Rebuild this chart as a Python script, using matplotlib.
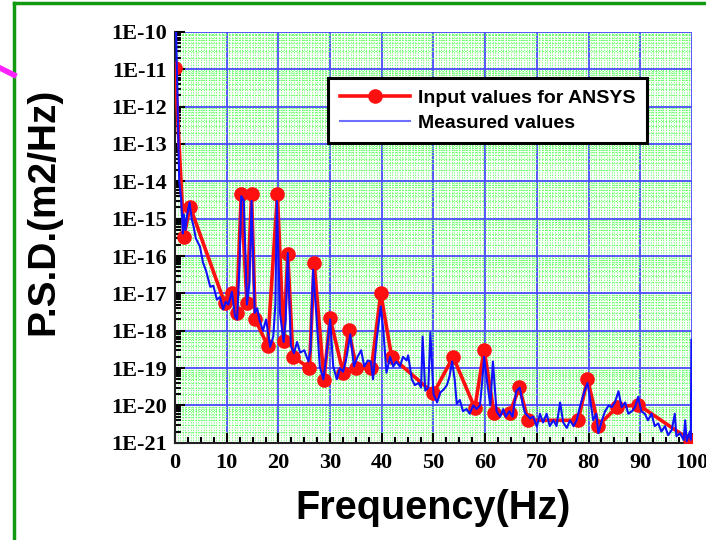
import numpy as np
import matplotlib
matplotlib.use('Agg')
import matplotlib.pyplot as plt
from matplotlib.ticker import MultipleLocator, FixedLocator, FuncFormatter, NullFormatter
from matplotlib.lines import Line2D

## INPUT VALUES FOR ANSYS (red, with markers)
f_in = [0, 1.7, 2.9, 9.6, 11.0, 11.9, 12.8, 13.9, 14.8, 15.5, 17.9, 19.8, 21.0, 21.8,
        22.8, 26.0, 26.9, 28.8, 30.0, 32.5, 33.6, 35.1, 38.0, 39.8, 41.9, 50.0, 53.8,
        58.0, 59.8, 61.7, 64.8, 66.6, 68.3, 78.0, 79.8, 81.9, 85.5, 89.6, 99.6]
psd_in = [1.1e-11, 3.3e-16, 2.1e-15, 5.5e-18, 1.0e-17, 3.0e-18, 4.5e-15, 5.4e-18, 4.5e-15,
          2.0e-18, 4.0e-19, 4.5e-15, 5.3e-19, 1.1e-16, 2.0e-19, 1.0e-19, 6.6e-17, 4.9e-20,
          2.2e-18, 7.5e-20, 1.05e-18, 1.0e-19, 1.0e-19, 1.0e-17, 2.0e-19, 2.1e-20, 2.0e-19,
          8.5e-21, 3.1e-19, 6.2e-21, 6.2e-21, 3.1e-20, 4.0e-21, 4.0e-21, 5.2e-20, 2.9e-21,
          9.0e-21, 1.05e-20, 1.2e-21]

## MEASURED VALUES (blue)
f_meas = [0.2, 0.5, 0.8, 1.2, 1.5, 1.7, 2.0, 2.3, 2.8, 3.2, 3.6, 4.0, 4.5, 4.8, 5.4, 6.0,
          6.8, 7.4, 8.1, 8.7, 9.3, 9.8, 10.3, 11.0, 11.6, 12.0, 12.5, 12.8, 13.3, 13.9,
          14.4, 14.8, 15.4, 15.9, 16.3, 17.0, 17.6, 18.4, 19.0, 19.4, 19.7, 20.3, 21.0,
          21.4, 21.8, 22.4, 23.0, 23.6, 24.2, 25.0, 25.8, 26.2, 26.7, 27.4, 28.0, 28.7,
          29.3, 30.0, 30.6, 31.3, 31.9, 32.5, 33.0, 33.3, 33.9, 34.6, 35.3, 36.0, 36.6,
          37.3, 37.9, 38.3, 39.0, 39.8, 40.3, 40.9, 41.6, 42.2, 42.8, 43.5, 44.1, 44.8,
          45.1, 45.8, 46.4, 47.1, 47.6, 47.9, 48.4, 49.0, 49.4, 50.0, 50.7, 51.3, 52.0,
          52.6, 53.1, 53.6, 54.1, 54.5, 55.1, 55.7, 56.4, 57.0, 57.7, 58.3, 59.0, 59.4,
          59.8, 60.4, 61.0, 61.5, 62.2, 62.9, 63.5, 64.0, 64.7, 65.3, 66.0, 66.7, 67.2,
          67.7, 68.7, 69.3, 70.0, 70.6, 71.2, 71.9, 72.5, 73.2, 73.8, 74.5, 75.1, 75.8,
          76.4, 77.1, 77.7, 78.4, 79.3, 79.8, 80.3, 80.9, 81.5, 81.9, 82.6, 83.2, 83.9,
          84.5, 85.1, 85.8, 86.4, 87.1, 87.7, 88.4, 89.0, 89.6, 90.2, 90.9, 91.5, 92.2,
          92.8, 93.5, 94.1, 94.8, 95.4, 96.1, 96.7, 97.0, 97.7, 98.4, 98.7, 99.0, 99.6,
          99.8, 99.9]
psd_meas = [1e-10, 1e-12, 1e-14, 3e-15, 4e-16, 1.3e-15, 5e-16, 1.2e-15, 2.7e-15, 1e-15,
            6e-16, 3e-16, 2.2e-16, 1.8e-16, 6.7e-17, 4e-17, 1.5e-17, 1.6e-17, 6.8e-18,
            8e-18, 3.7e-18, 6e-18, 5e-18, 1.1e-17, 2.4e-18, 2e-18, 8e-17, 4e-15, 3e-15,
            5e-18, 2e-17, 3e-15, 3e-18, 4e-18, 2e-18, 1e-18, 2e-18, 3.7e-19, 7e-19, 5e-18,
            3e-15, 3e-18, 5e-19, 2e-18, 1.2e-16, 4e-19, 2.5e-19, 5e-19, 2.6e-19, 3e-19,
            1.5e-19, 3e-19, 4.3e-17, 2e-18, 1.1e-19, 5e-20, 2.4e-19, 2e-18, 1.1e-19, 5e-20,
            1e-19, 8e-20, 1.5e-19, 2.5e-19, 8e-19, 1.1e-19, 2e-19, 3e-19, 1.1e-19, 1.6e-19,
            1.5e-19, 5e-20, 5.7e-19, 4.5e-18, 1e-18, 7.5e-20, 2e-19, 1.1e-19, 1.5e-19,
            1.1e-19, 2e-19, 1.6e-19, 2.2e-19, 5e-20, 3.5e-20, 4e-20, 3e-20, 7e-19, 2.5e-20,
            3e-20, 9e-19, 2e-20, 1.2e-20, 2.2e-20, 2.7e-20, 3.5e-20, 6e-20, 1.5e-19, 5e-20,
            1.1e-20, 1.4e-20, 7e-21, 8e-21, 6e-21, 1e-20, 8e-21, 1e-20, 4e-20, 2e-19, 4e-20,
            1e-20, 1.5e-19, 7e-21, 5e-21, 8e-21, 5e-21, 7e-21, 5e-21, 2.4e-20, 3e-20,
            1.2e-20, 6.3e-21, 4.5e-21, 5e-21, 2.7e-21, 6e-21, 3.5e-21, 6e-21, 2.8e-21,
            4e-21, 2.8e-21, 1.2e-20, 3.5e-21, 2.5e-21, 4e-21, 2.8e-21, 4e-21, 1e-20, 2.6e-20,
            4e-20, 1.5e-20, 4e-21, 6e-21, 1.8e-21, 4e-21, 7e-21, 1e-20, 9e-21, 1.2e-20,
            2.4e-20, 9e-21, 1.2e-20, 6e-21, 7e-21, 9e-21, 1.7e-20, 7e-21, 6e-21, 4e-21,
            6e-21, 2.8e-21, 3.3e-21, 2e-21, 2.8e-21, 1.6e-21, 2.2e-21, 6e-21, 1.5e-21,
            1.8e-21, 1.2e-21, 4e-21, 1.1e-21, 2e-21, 1.2e-21, 5.7e-19]

y_decades = [10.0 ** e for e in range(-21, -9)]

serif = 'Liberation Serif'
sans = 'Liberation Sans'

fig = plt.figure(figsize=(7.06, 5.4), dpi=100)
ax = fig.add_axes([0.248, 0.180, 0.732, 0.761])

## GRID
ax.set_yscale('log')
ax.set_xlim(0, 100)
ax.set_ylim(1e-21, 1e-10)
for v in np.arange(0.5, 100, 0.5):
    ax.axvline(v, color='#66ff66', lw=0.6, ls=(0, (1.5, 1.5)), zorder=0)
ax.yaxis.set_major_locator(FixedLocator(y_decades))
ax.yaxis.set_minor_locator(FixedLocator([d * k for d in y_decades[:-1] for k in range(2, 10)]))
ax.grid(which='minor', axis='y', color='#66ff66', lw=0.8, ls=(0, (1.5, 1.5)), zorder=0)
ax.grid(which='major', color='#4a4aff', lw=1.3, zorder=1)

## DATA
ax.plot(f_in, psd_in, color='#ff1010', lw=2.6, marker='o', ms=9.5,
        markeredgecolor='#ff1010', label='Input values for ANSYS', zorder=3)
ax.plot(f_meas, psd_meas, color='#1010ff', lw=1.5, label='Measured values', zorder=4)

## TICKS
ax.xaxis.set_major_locator(MultipleLocator(10))
ax.xaxis.set_minor_locator(MultipleLocator(2.5))
ax.tick_params(which='both', direction='in', top=False, right=False, width=1.5)
ax.tick_params(which='major', length=7)
ax.tick_params(which='minor', length=4)
ax.yaxis.set_major_formatter(FuncFormatter(lambda v, p: '1E%d' % round(np.log10(v))))
ax.yaxis.set_minor_formatter(NullFormatter())
for lab in ax.get_xticklabels() + ax.get_yticklabels():
    lab.set_fontfamily(serif)
    lab.set_fontweight('bold')
    lab.set_fontsize(16)
ax.tick_params(axis='x', pad=7)
ax.tick_params(axis='y', pad=6)
for s in ax.spines.values():
    s.set_linewidth(1.5)
ax.spines['left'].set_color('#222222')
ax.spines['bottom'].set_color('#222222')
ax.spines['top'].set_visible(False)
ax.spines['right'].set_visible(False)

ax.set_xlabel('Frequency(Hz)', fontfamily=sans, fontweight='bold', fontsize=28.5)
ax.set_ylabel('P.S.D.(m2/Hz)', fontfamily=sans, fontweight='bold', fontsize=28)
ax.xaxis.set_label_coords(0.5, -0.112)
ax.yaxis.set_label_coords(-0.22, 0.562)

leg = ax.legend(loc='upper left', bbox_to_anchor=(0.296, 0.888), borderaxespad=0,
                frameon=True, fancybox=False, framealpha=1, edgecolor='black',
                handlelength=3.6, handletextpad=0.4, borderpad=0.6, labelspacing=0.35,
                prop={'family': sans, 'weight': 'bold', 'size': 14})
leg.get_frame().set_linewidth(2.2)
leg.legend_handles[1].set_color('#7070ff')

## FRAME PIECES AROUND THE PLOT
fig.add_artist(Line2D([14/706, 14/706], [0, 1 - 3/540], color='#119911', lw=2.5))
fig.add_artist(Line2D([14/706, 1], [1 - 3/540, 1 - 3/540], color='#119911', lw=2.5))
fig.add_artist(Line2D([0, 14/706], [1 - 68/540, 1 - 75/540], color='#ff22ff', lw=4))

fig.savefig('out.png', dpi=100)
